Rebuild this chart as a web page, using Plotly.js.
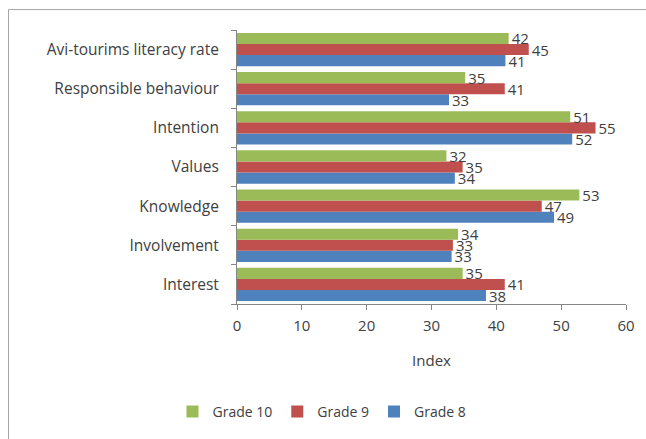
<!DOCTYPE html>
<html>
<head>
<meta charset="utf-8">
<script src="https://cdn.plot.ly/plotly-3.0.1.min.js"></script>
<style>html,body{margin:0;padding:0;background:#fff;}#chart{width:646px;height:439px;}</style>
</head>
<body>
<div id="chart"></div>
<script>
var categories = ['Interest','Involvement','Knowledge','Values','Intention','Responsible behaviour','Avi-tourims literacy rate'];
var grade8  = [38.4, 33.1, 48.9, 33.6, 51.7, 32.7, 41.4];
var grade9  = [41.3, 33.3, 47.0, 34.8, 55.3, 41.3, 45.0];
var grade10 = [34.8, 34.1, 52.8, 32.3, 51.4, 35.2, 41.9];
var seriesNames = ['Grade 8','Grade 9','Grade 10'];
var seriesColors = ['#4f81bd','#c0504d','#9bbb59'];
var xTicks = [0,10,20,30,40,50,60];

var fam = '"Open Sans", Lato, sans-serif';
var font = {family: fam, size: 14, color: '#404040'};
var data = [grade8, grade9, grade10].map(function(vals, i){
  return {
    type: 'bar', orientation: 'h', name: seriesNames[i],
    y: categories, x: vals,
    marker: {color: seriesColors[i], line: {width: 0}},
    text: vals.map(function(v){return Math.round(v);}),
    textposition: 'outside', cliponaxis: false, constraintext: 'none',
    textfont: {family: fam, size: 15, color: '#404040'},
    hoverinfo: 'x+y'
  };
});
var L = 237, R = 20, T = 30, B = 134, W = 646, H = 439;
var pw = W - L - R, ph = H - T - B;
function px(x){return (x - L)/pw;}
function py(y){return (H - B - y)/ph;}
var layout = {
  width: W, height: H,
  margin: {l: L, r: R, t: T, b: B, pad: 0},
  paper_bgcolor: '#fff', plot_bgcolor: '#fff',
  font: font,
  barmode: 'group', bargap: 0.15, bargroupgap: 0,
  showlegend: true,
  legend: {orientation: 'h', x: px(322), xanchor: 'center', y: py(412), yanchor: 'middle',
           traceorder: 'reversed', font: font, itemwidth: 30},
  xaxis: {range: [0, 60], tickvals: xTicks, showgrid: false, zeroline: false,
          showline: true, linecolor: '#868686', linewidth: 1,
          ticks: 'outside', ticklen: 5, tickcolor: '#868686', ticklabelstandoff: 3,
          tickfont: {family: fam, size: 15, color: '#404040'},
          title: {text: 'Index', font: {family: fam, size: 15, color: '#404040'}, standoff: 21}, fixedrange: true},
  yaxis: {type: 'category', showgrid: false, zeroline: false,
          showline: true, linecolor: '#868686', linewidth: 1,
          ticks: 'outside', ticklen: 5, tickcolor: '#868686', tickson: 'boundaries',
          ticklabelstandoff: 14,
          tickfont: {family: fam, size: 15.5, color: '#404040'}, fixedrange: true},
  shapes: [{type: 'rect', xref: 'paper', yref: 'paper',
            x0: px(8.5), x1: px(660), y0: py(460), y1: py(9.5),
            line: {color: '#a6a6a6', width: 1}, fillcolor: 'rgba(0,0,0,0)', layer: 'below'}]
};
Plotly.newPlot('chart', data, layout, {displayModeBar: false, staticPlot: true});
</script>
</body>
</html>
